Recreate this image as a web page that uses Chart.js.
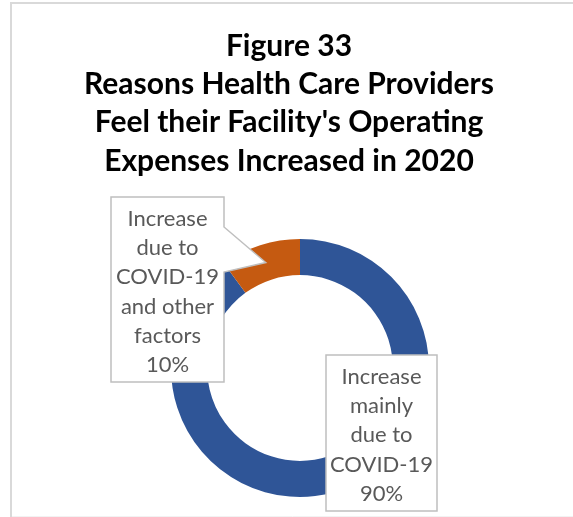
<!DOCTYPE html>
<html>
<head>
<meta charset="utf-8">
<script src="https://cdn.jsdelivr.net/npm/chart.js@4/dist/chart.umd.min.js"></script>
<style>
  html, body { margin: 0; padding: 0; background: #fff; }
  #wrap { width: 573px; height: 517px; position: relative; }
</style>
</head>
<body>
<div id="wrap"><canvas id="myChart" width="573" height="517"></canvas></div>
<script>
// chart data
var titleLines = ['Figure 33', 'Reasons Health Care Providers', "Feel their Facility's Operating", 'Expenses Increased in 2020'];
var categories = ['Increase mainly due to COVID-19', 'Increase due to COVID-19 and other factors'];
var shares = [90, 10];
var sliceColors = ['#2F5597', '#C55A11'];
var labelLines = [
    ['Increase', 'mainly', 'due to', 'COVID-19'],
    ['Increase', 'due to', 'COVID-19', 'and other', 'factors']
];

var FONT = 'Lato, "Open Sans", sans-serif';

// frame + title
var frameAndTitle = {
    id: 'frameAndTitle',
    beforeDraw: function (chart) {
        var ctx = chart.ctx;
        ctx.save();
        ctx.fillStyle = '#fff';
        ctx.fillRect(0, 0, chart.width, chart.height);
        ctx.strokeStyle = '#D9D9D9';
        ctx.lineWidth = 2;
        ctx.beginPath();
        ctx.moveTo(11, chart.height);
        ctx.lineTo(11, 3);
        ctx.lineTo(chart.width, 3);
        ctx.stroke();
        ctx.strokeStyle = '#F2F2F2';
        ctx.lineWidth = 1;
        ctx.beginPath();
        ctx.moveTo(12, 516.5);
        ctx.lineTo(chart.width, 516.5);
        ctx.stroke();

        ctx.fillStyle = '#000';
        ctx.font = 'bold 30px ' + FONT;
        ctx.textAlign = 'center';
        ctx.textBaseline = 'middle';
        for (var i = 0; i < titleLines.length; i++) {
            ctx.fillText(titleLines[i], 289, 46 + i * 38.3);
        }
        ctx.restore();
    }
};

// callout boxes for each slice
var dataLabels = {
    id: 'dataLabels',
    afterDatasetsDraw: function (chart) {
        var ctx = chart.ctx;
        var arcs = chart.getDatasetMeta(0).data;
        var boxes = [
            { x0: 326, y0: 355, x1: 437, y1: 511, lineY: 377 },
            { x0: 111, y0: 197, x1: 224, y1: 382, lineY: 219, pointer: [227, 272] }
        ];
        ctx.save();
        for (var i = 0; i < arcs.length; i++) {
            var b = boxes[i];
            var p = arcs[i].getProps(['x', 'y', 'startAngle', 'endAngle', 'innerRadius', 'outerRadius'], true);
            ctx.beginPath();
            ctx.moveTo(b.x0, b.y0);
            ctx.lineTo(b.x1, b.y0);
            if (b.pointer) {
                var mid = (p.startAngle + p.endAngle) / 2;
                var r = (p.innerRadius + p.outerRadius) / 2;
                var tx = p.x + Math.cos(mid) * r;
                var ty = p.y + Math.sin(mid) * r;
                ctx.lineTo(b.x1, b.pointer[0]);
                ctx.lineTo(tx, ty);
                ctx.lineTo(b.x1, b.pointer[1]);
            }
            ctx.lineTo(b.x1, b.y1);
            ctx.lineTo(b.x0, b.y1);
            ctx.closePath();
            ctx.fillStyle = '#fff';
            ctx.fill();
            ctx.strokeStyle = '#BFBFBF';
            ctx.lineWidth = 1.5;
            ctx.stroke();

            var lines = labelLines[i].concat([shares[i] + '%']);
            ctx.fillStyle = '#595959';
            ctx.font = '22px ' + FONT;
            ctx.textAlign = 'center';
            ctx.textBaseline = 'middle';
            var cx = (b.x0 + b.x1) / 2;
            for (var j = 0; j < lines.length; j++) {
                ctx.fillText(lines[j], cx, b.lineY + j * 29.2);
            }
        }
        ctx.restore();
    }
};

var ctx = document.getElementById('myChart').getContext('2d');
var chart = new Chart(ctx, {
    type: 'doughnut',
    data: {
        labels: categories,
        datasets: [{
            data: shares,
            backgroundColor: sliceColors,
            borderWidth: 0
        }]
    },
    options: {
        responsive: false,
        animation: false,
        devicePixelRatio: 1,
        cutout: '72%',
        layout: { padding: { left: 171, right: 144, top: 239, bottom: 20 } },
        plugins: {
            legend: { display: false },
            tooltip: { enabled: false },
            title: { display: false }
        }
    },
    plugins: [frameAndTitle, dataLabels]
});
</script>
</body>
</html>
